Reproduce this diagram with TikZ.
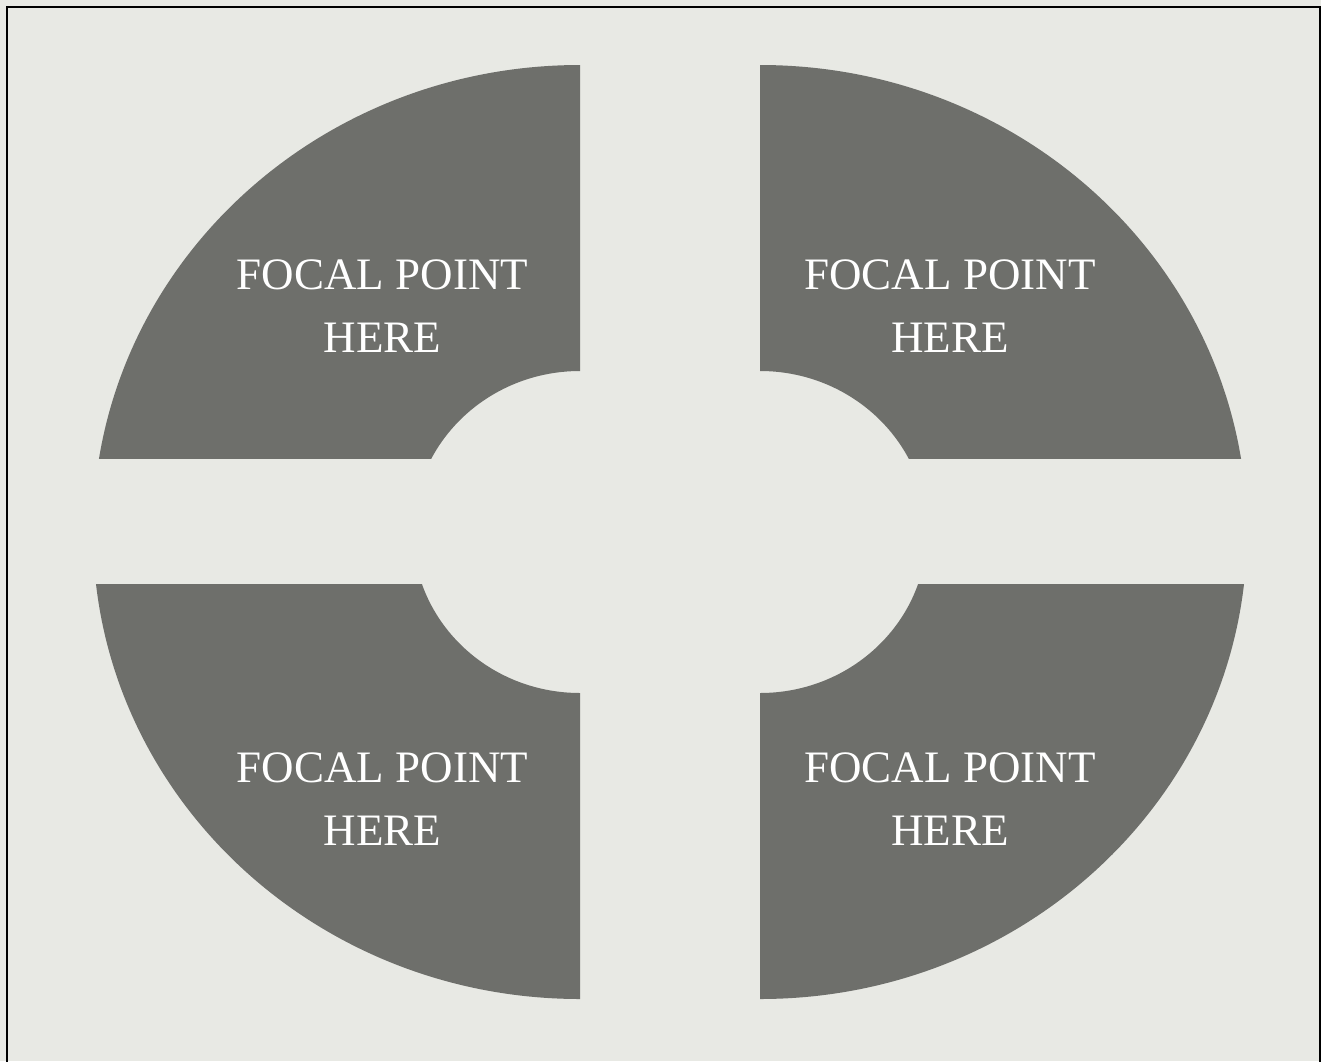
\documentclass[tikz,border=0pt]{standalone}
\usepackage{fontspec}
\setmainfont{Liberation Serif}
\usetikzlibrary{positioning}
\definecolor{canvas}{HTML}{E8E9E4}
\definecolor{slate}{HTML}{6E6F6B}
\tikzset{piece/.style={fill=slate,even odd rule},focal/.style={text=white,align=center,inner sep=0pt,font=\fontsize{12.8}{17.9}\selectfont},frame/.style={draw=black,line width=0.25mm}}

\begin{document}
\begin{tikzpicture}[x=0.1mm,y=-0.1mm]
\useasboundingbox (0,0) rectangle (1321,1061);
\clip (0,0) rectangle (1321,1061);
\fill[canvas] (0,0) rectangle (1321,1061);
% two half rings pulled apart, each cut by the middle band
\foreach \cx/\xa/\xb in {580/0/580, 760/760/1321}{
  \foreach \ya/\yb in {0/458, 584/1061}{
    \begin{scope}
      \clip (\xa,\ya) rectangle (\xb,\yb);
      \fill[piece] (\cx,532) ellipse [x radius=48.7mm, y radius=46.7mm] (\cx,532) ellipse [x radius=16.7mm, y radius=16.1mm];
    \end{scope}
  }
}
\node[focal] (tl) at (382.5,306) {FOCAL POINT\\HERE};
\node[focal] (tr) at (950,306) {FOCAL POINT\\HERE};
\node[focal] (bl) at (382.5,799.5) {FOCAL POINT\\HERE};
\node[focal] (br) at (950,799.5) {FOCAL POINT\\HERE};
\draw[frame] (7,1080) -- (7,7) -- (1320,7) -- (1320,1080);
\end{tikzpicture}
\end{document}
